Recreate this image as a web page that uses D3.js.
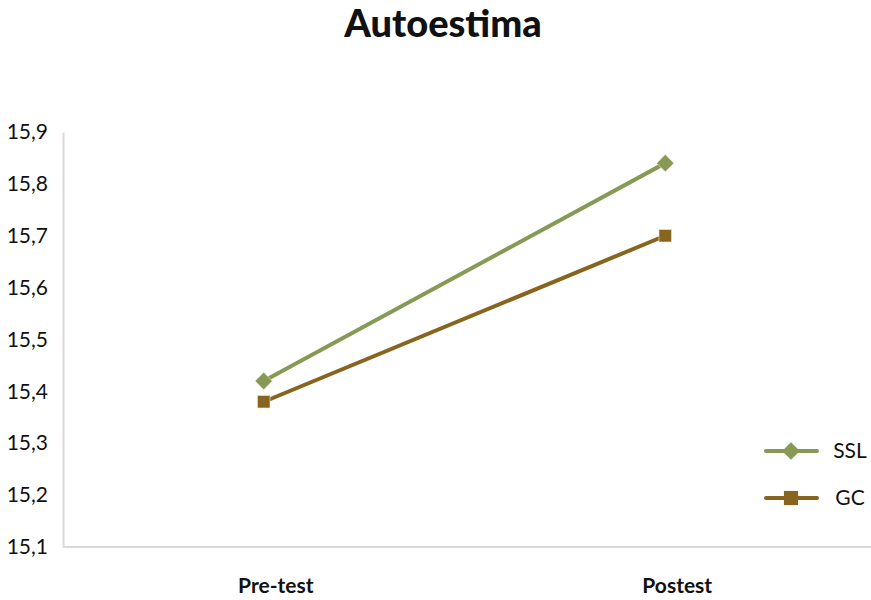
<!DOCTYPE html>
<html>
<head>
<meta charset="utf-8">
<script src="https://cdn.jsdelivr.net/npm/d3@7"></script>
<style>
  html, body { margin: 0; padding: 0; background: #fff; }
  svg { display: block; }
  text { font-family: Lato, "Open Sans", sans-serif; fill: #111; }
</style>
</head>
<body>
<svg id="chart" width="871" height="600"></svg>
<script>
// Autoestima scores, pre-test vs postest
const categories = ["Pre-test", "Postest"];
const seriesNames = ["SSL", "GC"];
const sslValues = [15.42, 15.84];
const gcValues = [15.38, 15.70];
const yTicks = [15.1, 15.2, 15.3, 15.4, 15.5, 15.6, 15.7, 15.8, 15.9];

const colors = { SSL: "#879a55", GC: "#87651f" };
const series = [
  { name: seriesNames[0], values: sslValues, shape: d3.symbolDiamond2, color: colors.SSL },
  { name: seriesNames[1], values: gcValues, shape: d3.symbolSquare2, color: colors.GC }
];

const svg = d3.select("#chart");
const W = 871, H = 600;
const plot = { left: 63, right: 866, top: 132, bottom: 547 };

const x = d3.scaleBand().domain(categories).range([plot.left, plot.right]).padding(0);
const y = d3.scaleLinear().domain([15.1, 15.9]).range([plot.bottom, plot.top]);
const fmt = v => d3.format(".1f")(v).replace(".", ",");

// title
svg.append("text")
  .attr("x", 443).attr("y", 37)
  .attr("text-anchor", "middle")
  .style("font-size", "38px").style("font-weight", "900")
  .text("Autoestima");

// y axis
const yAxis = d3.axisLeft(y).tickValues(yTicks).tickFormat(fmt).tickSize(0).tickPadding(15);
const gy = svg.append("g").attr("transform", `translate(${plot.left},0)`).call(yAxis);
gy.select(".domain").attr("stroke", "#d9d9d9").attr("stroke-width", 2);
gy.selectAll(".tick text")
  .style("font-size", "21px").style("font-family", "Lato, sans-serif").attr("fill", "#111");

// x axis
const xAxis = d3.axisBottom(x).tickSize(0).tickPadding(31);
const gx = svg.append("g").attr("transform", `translate(0,${plot.bottom})`).call(xAxis);
gx.select(".domain").remove();
gx.append("line")
  .attr("x1", plot.left).attr("x2", W)
  .attr("stroke", "#d9d9d9").attr("stroke-width", 2);
gx.selectAll(".tick text")
  .attr("dx", 12)
  .style("font-size", "21px").style("font-weight", "700")
  .style("font-family", "Lato, sans-serif").attr("fill", "#111");

// lines and markers
const cx = c => x(c) + x.bandwidth() / 2;
const line = d3.line().x((d, i) => cx(categories[i])).y(d => y(d));

series.forEach(s => {
  svg.append("path")
    .datum(s.values)
    .attr("d", line)
    .attr("fill", "none")
    .attr("stroke", s.color)
    .attr("stroke-width", 4)
    .attr("stroke-linecap", "round");
  svg.selectAll(null)
    .data(s.values)
    .join("path")
    .attr("transform", (d, i) => `translate(${cx(categories[i])},${y(d)})`)
    .attr("d", d3.symbol().type(s.shape).size(s.name === "SSL" ? 190 : 200))
    .attr("fill", s.color)
    .attr("stroke", "#f3ead8")
    .attr("stroke-width", 0.6);
});

// legend
const legend = svg.append("g");
series.forEach((s, i) => {
  const ly = 451 + i * 47;
  legend.append("line")
    .attr("x1", 766).attr("x2", 817).attr("y1", ly).attr("y2", ly)
    .attr("stroke", s.color).attr("stroke-width", 4).attr("stroke-linecap", "round");
  legend.append("path")
    .attr("transform", `translate(791,${ly})`)
    .attr("d", d3.symbol().type(s.shape).size(s.name === "SSL" ? 200 : 256))
    .attr("fill", s.color);
  legend.append("text")
    .attr("x", 850).attr("y", ly).attr("dy", "0.35em")
    .attr("text-anchor", "middle")
    .style("font-size", "21px")
    .text(s.name);
});
</script>
</body>
</html>
